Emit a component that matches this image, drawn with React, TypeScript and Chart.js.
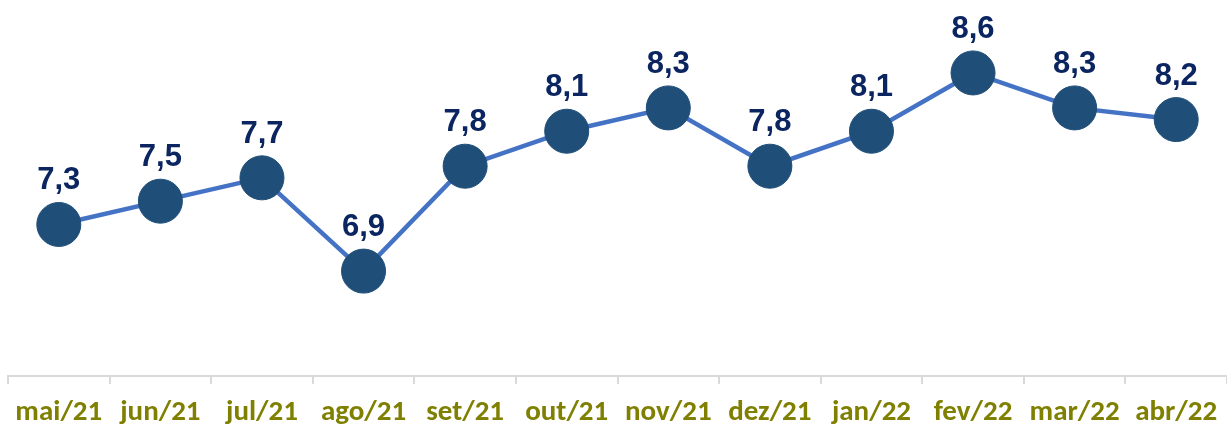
import React, { useEffect, useRef } from "react";
import { Chart, registerables } from "chart.js";

Chart.register(...registerables);

const categories = ["mai/21", "jun/21", "jul/21", "ago/21", "set/21", "out/21", "nov/21", "dez/21", "jan/22", "fev/22", "mar/22", "abr/22"];
const values = [7.3, 7.5, 7.7, 6.9, 7.8, 8.1, 8.3, 7.8, 8.1, 8.6, 8.3, 8.2];
const yMin = 6;
const yMax = 9.2;

const labelPlugin = {
  id: "valueLabels",
  afterDatasetsDraw(chart: any) {
    const ctx = chart.ctx;
    const meta = chart.getDatasetMeta(0);
    ctx.save();
    ctx.font = "bold 31px 'Liberation Sans', Arial, sans-serif";
    ctx.fillStyle = "#0B2560";
    ctx.textAlign = "center";
    ctx.textBaseline = "alphabetic";
    meta.data.forEach((pt: any, i: number) => {
      const txt = values[i].toFixed(1).replace(".", ",");
      ctx.fillText(txt, pt.x, pt.y - 35);
    });
    ctx.restore();
  },
};

export default function App() {
  const ref = useRef<HTMLCanvasElement>(null);
  useEffect(() => {
    if (!ref.current) return;
    const chart = new Chart(ref.current, {
      type: "line",
      data: {
        labels: categories,
        datasets: [
          {
            data: values,
            borderColor: "#4472C4",
            borderWidth: 4.5,
            pointRadius: 22,
            pointHoverRadius: 22,
            pointBackgroundColor: "#1F4E79",
            pointBorderColor: "#1F4E79",
            pointBorderWidth: 1,
            tension: 0,
            clip: false as any,
          },
        ],
      },
      options: {
        animation: false,
        responsive: false,
        maintainAspectRatio: false,
        layout: { autoPadding: false, padding: { left: 8, top: 3, right: 0, bottom: 0 } },
        plugins: { legend: { display: false }, tooltip: { enabled: false } },
        scales: {
          x: {
            offset: true,
            grid: {
              offset: true,
              drawOnChartArea: false,
              drawTicks: true,
              tickLength: 8,
              color: "#D9D9D9",
              lineWidth: 2,
            },
            border: { display: true, color: "#D9D9D9", width: 2 },
            ticks: {
              color: "#7F7F00",
              font: { family: "Carlito, Lato, sans-serif", size: 29, weight: "bold" },
              padding: 11,
              maxRotation: 0,
              autoSkip: false,
            },
            afterFit(scale: any) {
              scale.height = 49;
              scale.paddingLeft = 0;
              scale.paddingRight = 0;
            },
          },
          y: {
            display: false,
            min: yMin,
            max: yMax,
          },
        },
      },
      plugins: [labelPlugin],
    });
    return () => chart.destroy();
  }, []);
  return (
    <div style={{ position: "absolute", left: 0, top: 0, width: 1227, height: 425 }}>
      <canvas ref={ref} width={1227} height={425} style={{ display: "block" }} />
    </div>
  );
}
